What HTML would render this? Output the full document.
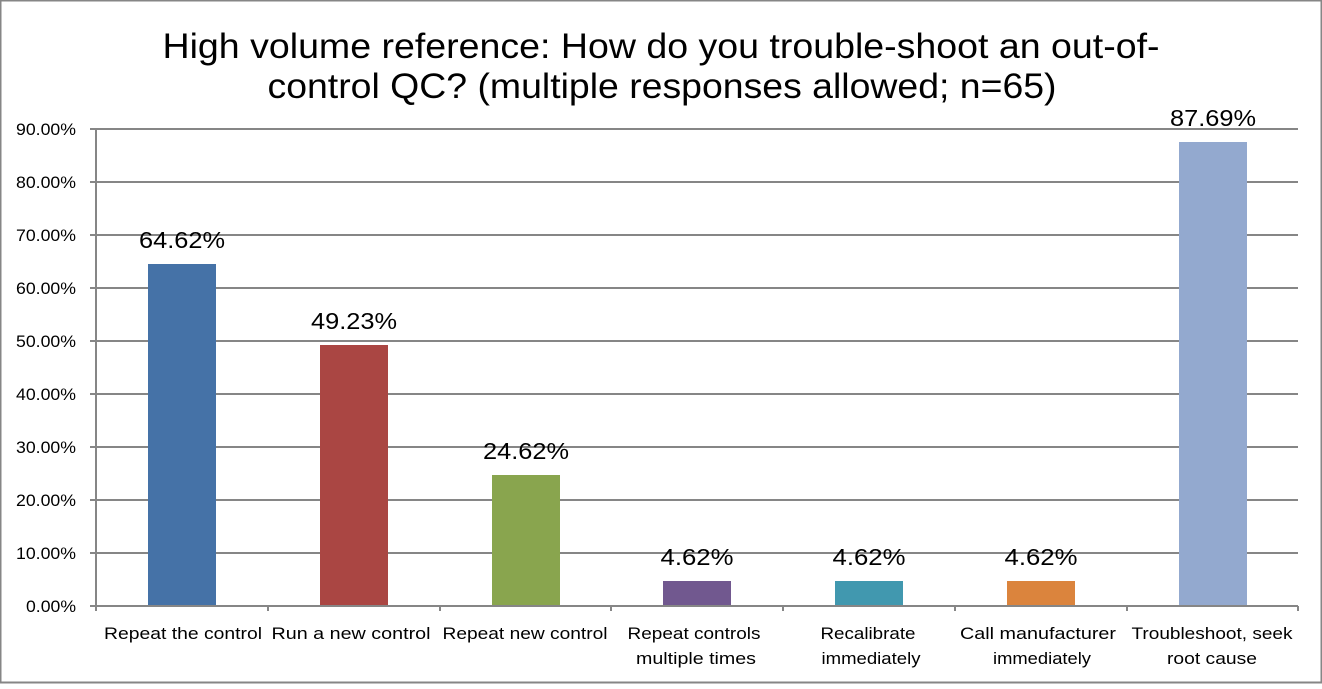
<!DOCTYPE html>
<html><head><style>html,body{margin:0;padding:0;background:#fff}</style></head>
<body>
<svg width="1322" height="684" xmlns="http://www.w3.org/2000/svg" font-family="Liberation Sans, sans-serif">
<rect x="0.5" y="0.5" width="1321" height="682" fill="#fff" stroke="#868686" stroke-width="2"/>
<text x="661" y="58" font-size="35" text-anchor="middle" textLength="997" lengthAdjust="spacingAndGlyphs">High volume reference: How do you trouble-shoot an out-of-</text>
<text x="662" y="98" font-size="35" text-anchor="middle" textLength="789" lengthAdjust="spacingAndGlyphs">control QC? (multiple responses allowed; n=65)</text>
<g stroke="#868686" stroke-width="2">
<line x1="90" y1="129" x2="1298" y2="129"/>
<line x1="90" y1="182" x2="1298" y2="182"/>
<line x1="90" y1="235" x2="1298" y2="235"/>
<line x1="90" y1="288" x2="1298" y2="288"/>
<line x1="90" y1="341" x2="1298" y2="341"/>
<line x1="90" y1="394" x2="1298" y2="394"/>
<line x1="90" y1="447" x2="1298" y2="447"/>
<line x1="90" y1="500" x2="1298" y2="500"/>
<line x1="90" y1="553" x2="1298" y2="553"/>
<line x1="90" y1="606" x2="1298" y2="606"/>
<line x1="96" y1="129" x2="96" y2="611"/>
<line x1="268" y1="606" x2="268" y2="611"/>
<line x1="440" y1="606" x2="440" y2="611"/>
<line x1="611" y1="606" x2="611" y2="611"/>
<line x1="783" y1="606" x2="783" y2="611"/>
<line x1="955" y1="606" x2="955" y2="611"/>
<line x1="1127" y1="606" x2="1127" y2="611"/>
<line x1="1298" y1="606" x2="1298" y2="611"/>
</g>
<g font-size="17" text-anchor="end">
<text x="76" y="135" textLength="60" lengthAdjust="spacingAndGlyphs">90.00%</text><text x="76" y="188" textLength="60" lengthAdjust="spacingAndGlyphs">80.00%</text><text x="76" y="241" textLength="60" lengthAdjust="spacingAndGlyphs">70.00%</text>
<text x="76" y="294" textLength="60" lengthAdjust="spacingAndGlyphs">60.00%</text><text x="76" y="347" textLength="60" lengthAdjust="spacingAndGlyphs">50.00%</text><text x="76" y="400" textLength="60" lengthAdjust="spacingAndGlyphs">40.00%</text>
<text x="76" y="453" textLength="60" lengthAdjust="spacingAndGlyphs">30.00%</text><text x="76" y="506" textLength="60" lengthAdjust="spacingAndGlyphs">20.00%</text><text x="76" y="559" textLength="60" lengthAdjust="spacingAndGlyphs">10.00%</text>
<text x="76" y="612" textLength="50" lengthAdjust="spacingAndGlyphs">0.00%</text>
</g>
<rect x="148" y="264" width="68" height="341" fill="#4572a7"/>
<rect x="320" y="345" width="68" height="260" fill="#aa4643"/>
<rect x="492" y="475" width="68" height="130" fill="#89a54e"/>
<rect x="663" y="581" width="68" height="24" fill="#71588f"/>
<rect x="835" y="581" width="68" height="24" fill="#4198af"/>
<rect x="1007" y="581" width="68" height="24" fill="#db843d"/>
<rect x="1179" y="142" width="68" height="463" fill="#93a9cf"/>
<g font-size="23" text-anchor="middle">
<text x="182" y="248" textLength="86" lengthAdjust="spacingAndGlyphs">64.62%</text>
<text x="354" y="329" textLength="86" lengthAdjust="spacingAndGlyphs">49.23%</text>
<text x="526" y="459" textLength="86" lengthAdjust="spacingAndGlyphs">24.62%</text>
<text x="697" y="565" textLength="73" lengthAdjust="spacingAndGlyphs">4.62%</text>
<text x="869" y="565" textLength="73" lengthAdjust="spacingAndGlyphs">4.62%</text>
<text x="1041" y="565" textLength="73" lengthAdjust="spacingAndGlyphs">4.62%</text>
<text x="1213" y="126" textLength="86" lengthAdjust="spacingAndGlyphs">87.69%</text>
</g>
<g font-size="17" text-anchor="middle">
<text x="183" y="639" textLength="158" lengthAdjust="spacingAndGlyphs">Repeat the control</text>
<text x="351" y="639" textLength="159" lengthAdjust="spacingAndGlyphs">Run a new control</text>
<text x="525" y="639" textLength="165" lengthAdjust="spacingAndGlyphs">Repeat  new control</text>
<text x="694" y="639" textLength="133" lengthAdjust="spacingAndGlyphs">Repeat controls</text><text x="696" y="664" textLength="120" lengthAdjust="spacingAndGlyphs">multiple times</text>
<text x="868" y="639" textLength="95" lengthAdjust="spacingAndGlyphs">Recalibrate</text><text x="871" y="664" textLength="99" lengthAdjust="spacingAndGlyphs">immediately</text>
<text x="1038" y="639" textLength="156" lengthAdjust="spacingAndGlyphs">Call  manufacturer</text><text x="1042" y="664" textLength="98" lengthAdjust="spacingAndGlyphs">immediately</text>
<text x="1212" y="639" textLength="161" lengthAdjust="spacingAndGlyphs">Troubleshoot, seek</text><text x="1212" y="664" textLength="90" lengthAdjust="spacingAndGlyphs">root cause</text>
</g>
</svg>
</body></html>
